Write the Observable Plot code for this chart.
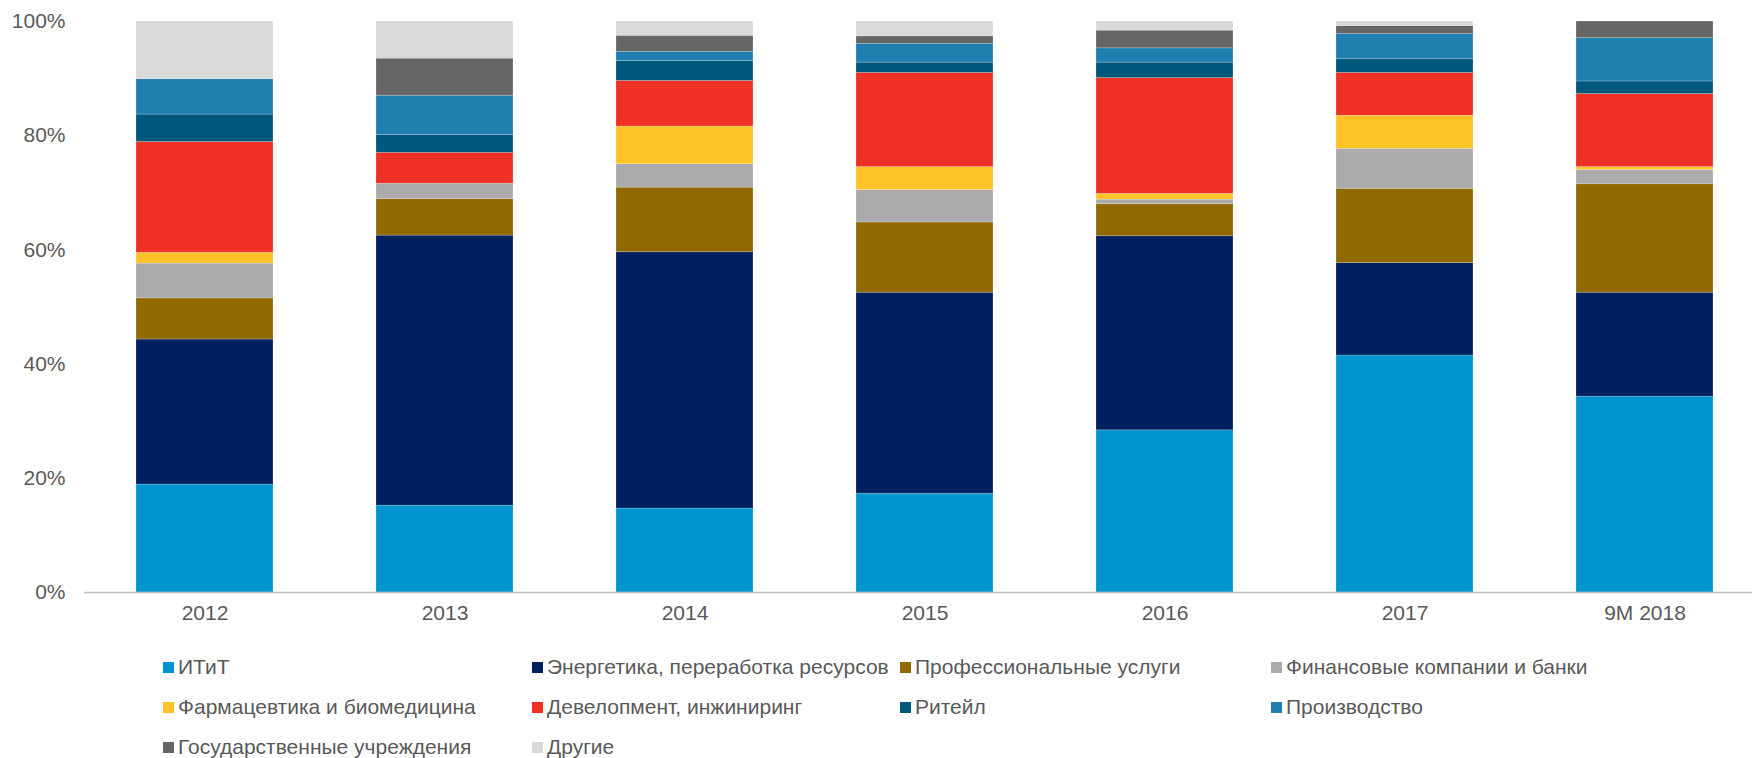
<!DOCTYPE html>
<html>
<head>
<meta charset="utf-8">
<script src="https://cdn.jsdelivr.net/npm/d3@7"></script>
<script src="https://cdn.jsdelivr.net/npm/@observablehq/plot@0.6"></script>
<style>
  html, body { margin: 0; padding: 0; background: #fff; }
  #chart { width: 1752px; }
  .legend { position: relative; width: 1752px; height: 118px; font-family: "Liberation Sans", Arial, sans-serif; font-size: 21px; color: #595959; }
  .item { position: absolute; display: flex; align-items: center; height: 40px; white-space: nowrap; }
  .sw { width: 11px; height: 11px; margin-right: 4px; flex: none; }
</style>
</head>
<body>
<div id="chart"></div>
<div class="legend" id="legend"></div>
<script>
const years = ["2012", "2013", "2014", "2015", "2016", "2017", "9M 2018"];
const sectors = [
  "ИТиТ",
  "Энергетика, переработка ресурсов",
  "Профессиональные услуги",
  "Финансовые компании и банки",
  "Фармацевтика и биомедицина",
  "Девелопмент, инжиниринг",
  "Ритейл",
  "Производство",
  "Государственные учреждения",
  "Другие"
];
const colors = ["#0094d0", "#00205f", "#926900", "#ababab", "#ffc328", "#ee3124", "#01587d", "#1f7fb0", "#666666", "#d9d9d9"];

// shares, % (per year, in order of years)
const itit       = [18.9, 15.2, 14.7, 17.3, 28.4, 41.5, 34.3];
const energy     = [25.4, 47.3, 44.9, 35.2, 34.0, 16.2, 18.2];
const profServ   = [7.2, 6.4, 11.3, 12.3, 5.6, 13.0, 19.0];
const finance    = [6.1, 2.7, 4.1, 5.7, 0.8, 7.0, 2.5];
const pharma     = [1.9, 0.0, 6.6, 4.0, 1.0, 5.8, 0.5];
const development= [19.4, 5.4, 8.0, 16.5, 20.3, 7.5, 12.8];
const retail     = [4.8, 3.1, 3.5, 1.8, 2.7, 2.4, 2.2];
const production = [6.2, 6.9, 1.6, 3.3, 2.5, 4.4, 7.6];
const government = [0.0, 6.5, 2.8, 1.3, 3.1, 1.4, 2.9];
const others     = [10.1, 6.5, 2.5, 2.6, 1.6, 0.8, 0.0];

const series = [itit, energy, profServ, finance, pharma, development, retail, production, government, others];
const data = series.flatMap((vals, si) => vals.map((v, yi) => ({year: years[yi], sector: sectors[si], value: v})));

const chart = Plot.plot({
  width: 1752,
  height: 640,
  marginLeft: 84,
  marginRight: 0,
  marginTop: 21,
  marginBottom: 48,
  style: {fontFamily: "'Liberation Sans', Arial, sans-serif", fontSize: "21px", color: "#595959", background: "#fff"},
  x: {domain: years, range: [84, 1764], paddingInner: 0.43, paddingOuter: 0.215, label: null},
  y: {domain: [0, 100], label: null},
  color: {domain: sectors, range: colors},
  marks: [
    Plot.barY(data, {x: "year", y: "value", fill: "sector", stroke: "#ffffff", strokeOpacity: 0.25, strokeWidth: 0.8}),
    Plot.ruleY([0], {stroke: "#bfbfbf", strokeWidth: 1.5}),
    Plot.axisX({tickSize: 0, tickPadding: 13, fill: "#595959", fontSize: 21, label: null}),
    Plot.axisY({ticks: [0, 20, 40, 60, 80, 100], tickFormat: d => d + "%", tickSize: 0, tickPadding: 19, fill: "#595959", fontSize: 21, label: null})
  ]
});
document.getElementById("chart").appendChild(chart);

// legend below the SVG
const legend = document.getElementById("legend");
const colX = [163, 532, 900, 1271];
sectors.forEach((s, i) => {
  const row = Math.floor(i / 4), col = i % 4;
  const it = document.createElement("div");
  it.className = "item";
  it.style.left = colX[col] + "px";
  it.style.top = (7 + row * 40) + "px";
  const sw = document.createElement("span");
  sw.className = "sw";
  sw.style.background = colors[i];
  const tx = document.createElement("span");
  tx.textContent = s;
  it.appendChild(sw);
  it.appendChild(tx);
  legend.appendChild(it);
});
</script>
</body>
</html>
